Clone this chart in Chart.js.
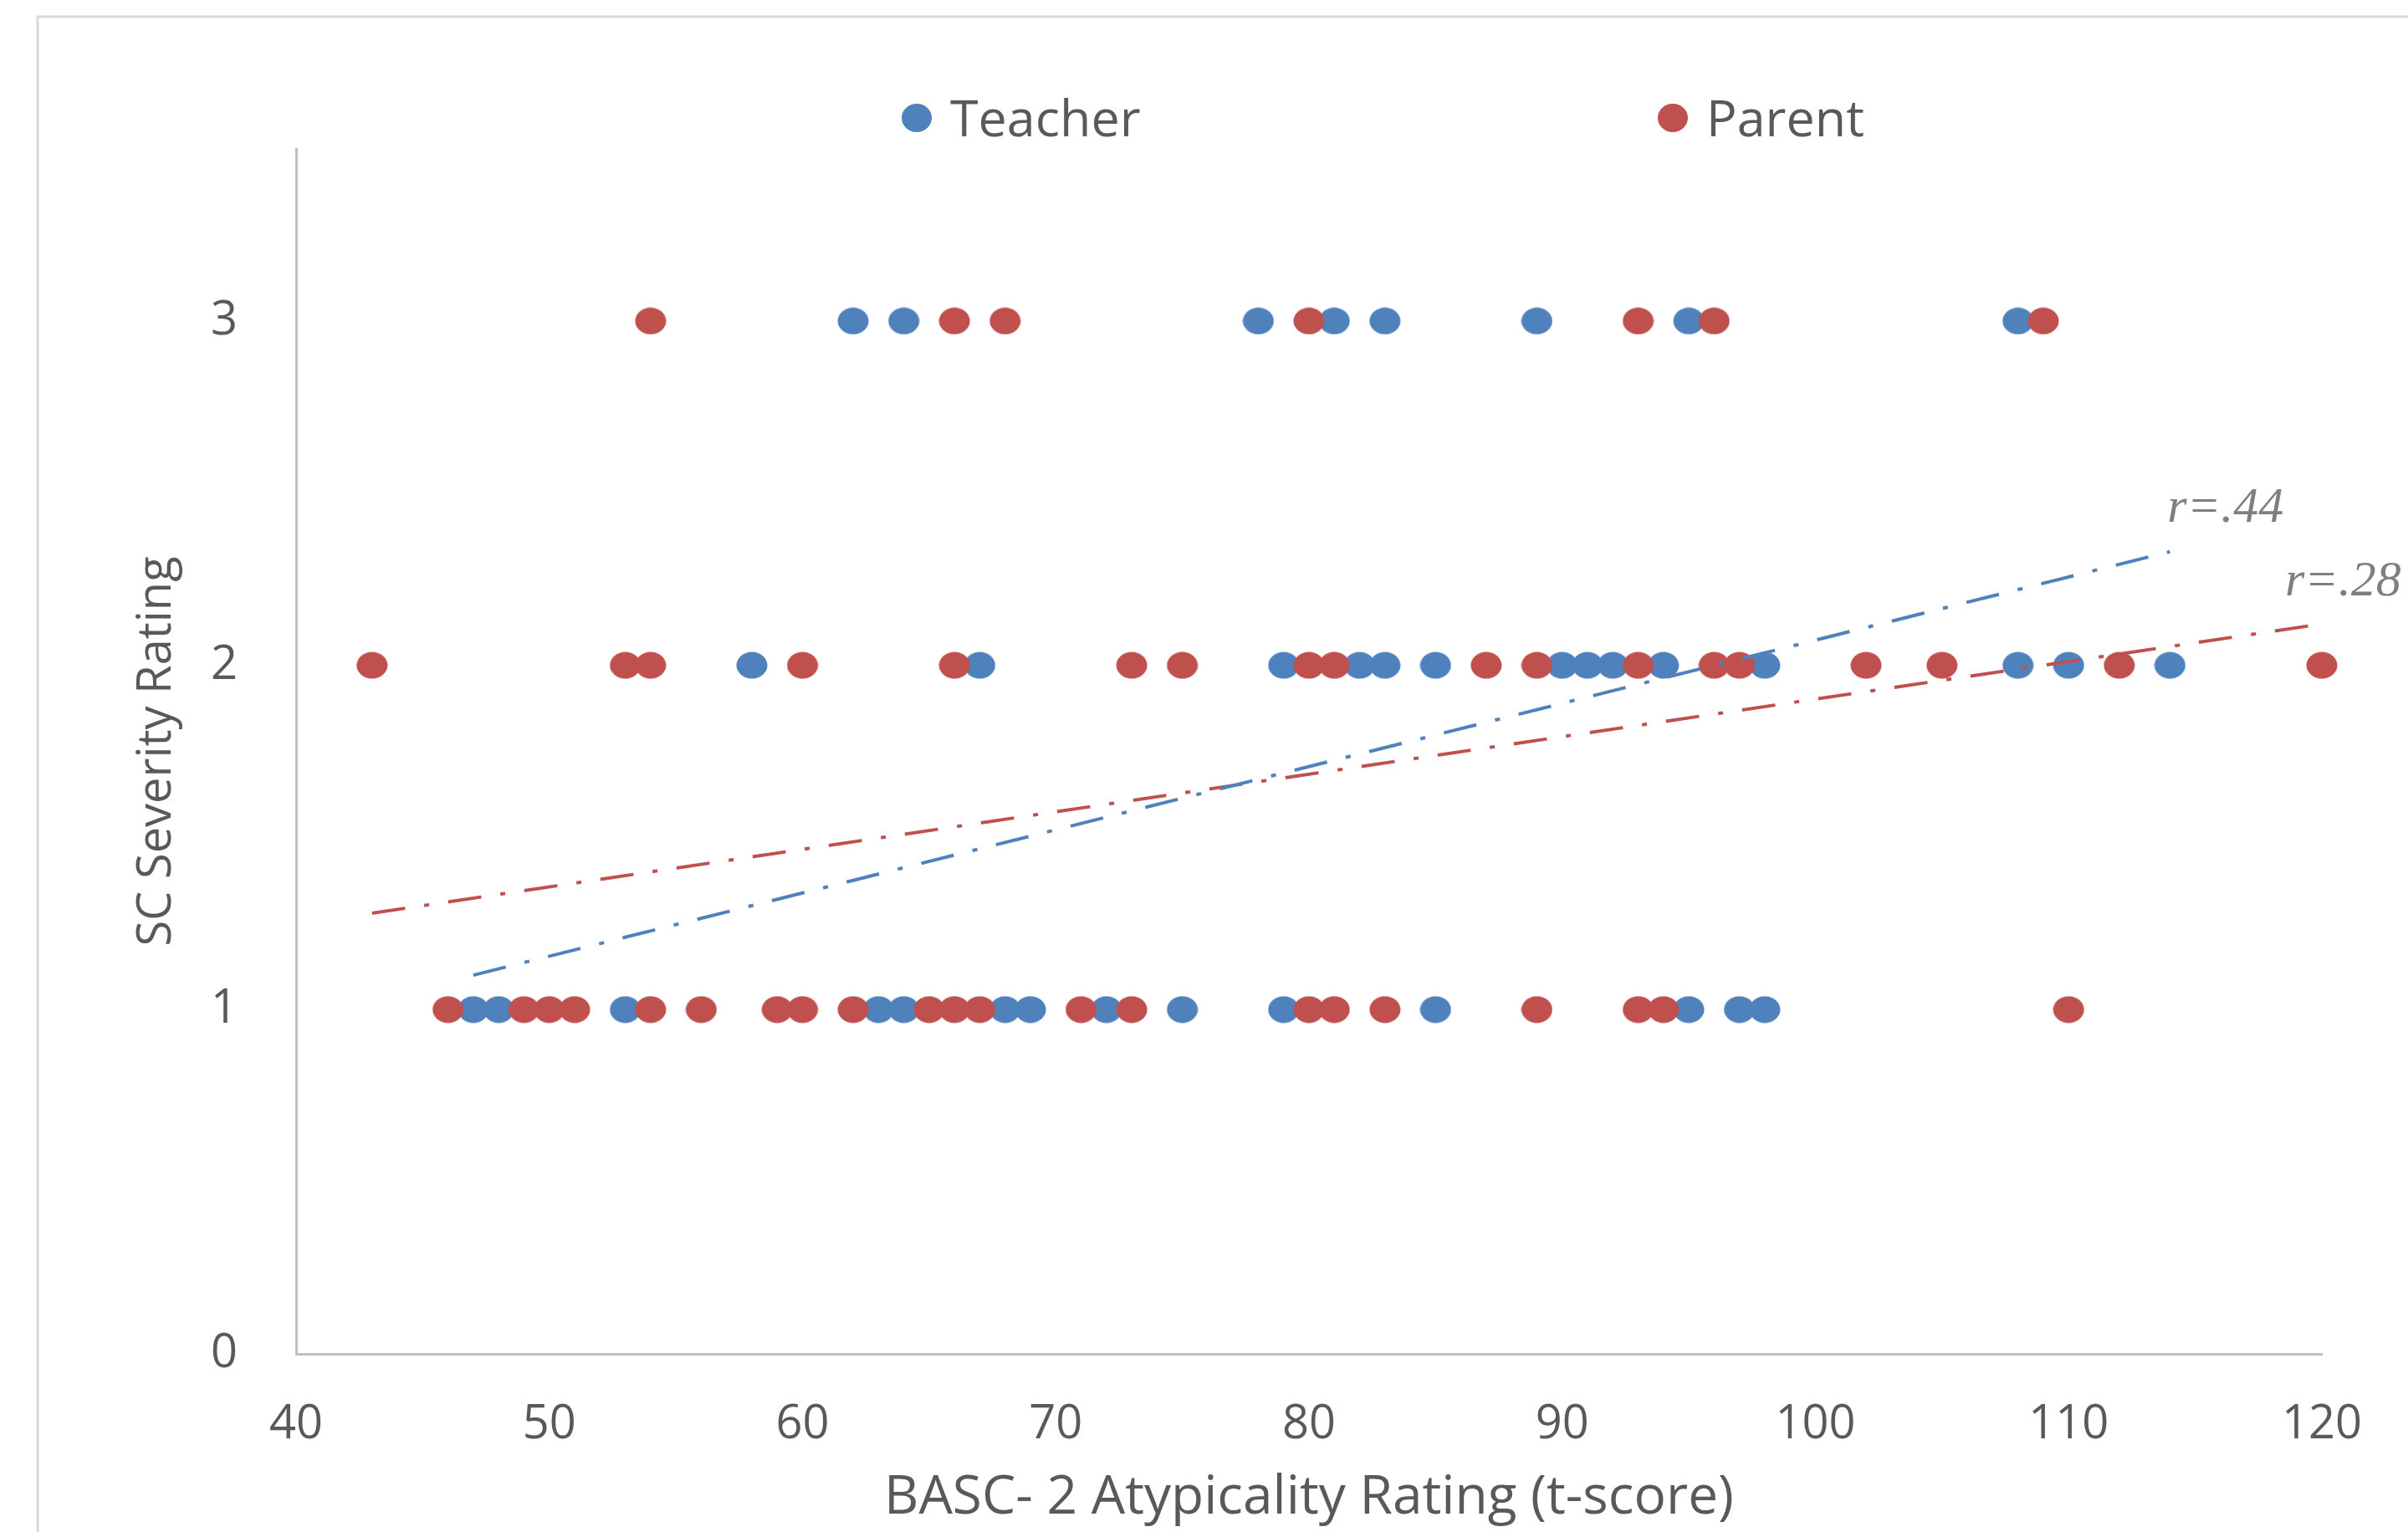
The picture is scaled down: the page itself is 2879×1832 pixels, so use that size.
<!DOCTYPE html>
<html>
<head>
<meta charset="utf-8">
<title>SC Severity vs BASC-2 Atypicality</title>
<script src="https://cdn.jsdelivr.net/npm/chart.js@4.4.0/dist/chart.umd.min.js"></script>
<style>
    html, body { margin: 0; padding: 0; background: #fff; }
</style>
</head>
<body>
<canvas id="scatterChart" width="2879" height="1832"></canvas>
<script>
// series names
const seriesNames = ["Teacher", "Parent"];

// BASC-2 t-scores, grouped by SC severity rating
const teacherSev3 = [62, 64, 78, 81, 83, 89, 95, 108];
const teacherSev2 = [58, 67, 79, 82, 83, 85, 90, 91, 92, 94, 98, 108, 110, 114];
const teacherSev1 = [47, 48, 53, 63, 64, 68, 69, 72, 75, 79, 85, 95, 97, 98];

const parentSev3 = [54, 66, 68, 80, 93, 96, 109];
const parentSev2 = [43, 53, 54, 60, 66, 73, 75, 80, 81, 87, 89, 93, 96, 97, 102, 105, 112, 120];
const parentSev1 = [46, 49, 50, 51, 54, 56, 59, 60, 62, 65, 66, 67, 71, 73, 80, 81, 83, 89, 93, 94, 110];

// trendline end points
const teacherTrendX = [47, 114];
const teacherTrendY = [1.10, 2.33];
const parentTrendX = [43, 120];
const parentTrendY = [1.28, 2.12];

const correlations = ["r=.44", "r=.28"];

// axis ticks
const xTicks = [40, 50, 60, 70, 80, 90, 100, 110, 120];
const yTicks = [0, 1, 2, 3];

const BLUE = "#4F81BD";
const RED = "#C0504D";
const TEXT = "#595959";
const FONT = "'Open Sans', Lato, sans-serif";

function toPoints(rows) {
    const pts = [];
    rows.forEach(([sev, scores]) => {
        scores.forEach(x => pts.push({ x: x, y: sev }));
    });
    return pts;
}

function toLine(xs, ys) {
    return xs.map((x, i) => ({ x: x, y: ys[i] }));
}

// excel style oval marker
function makeDot(color) {
    const c = document.createElement("canvas");
    c.width = 38;
    c.height = 33;
    const g = c.getContext("2d");
    g.fillStyle = color;
    g.beginPath();
    g.ellipse(19, 16.5, 18.5, 16, 0, 0, Math.PI * 2);
    g.fill();
    return c;
}

// outer chart border, legend and r labels
const decorPlugin = {
    id: "decor",
    beforeDraw(chart) {
        const ctx = chart.ctx;
        ctx.save();
        ctx.strokeStyle = "#d9d9d9";
        ctx.lineWidth = 3;
        ctx.strokeRect(45, 20, 3000, 2000);
        ctx.restore();
    },
    afterDraw(chart) {
        const ctx = chart.ctx;
        ctx.save();

        // legend
        const legendPos = [1096, 2000];
        ctx.font = "61px " + FONT;
        ctx.textBaseline = "middle";
        ctx.textAlign = "left";
        seriesNames.forEach((name, i) => {
            const x = legendPos[i];
            ctx.fillStyle = i === 0 ? BLUE : RED;
            ctx.beginPath();
            ctx.ellipse(x, 141, 18, 17, 0, 0, Math.PI * 2);
            ctx.fill();
            ctx.fillStyle = TEXT;
            ctx.fillText(name, x + 40, 146);
        });

        // r values near the trendline ends
        const xs = chart.scales.x;
        const ys = chart.scales.y;
        ctx.font = "italic 60px 'Liberation Serif', serif";
        ctx.fillStyle = "#7f7f7f";
        ctx.textBaseline = "alphabetic";
        const ends = [
            [teacherTrendX[1], teacherTrendY[1], -3, -36],
            [parentTrendX[1], parentTrendY[1], -44, -34]
        ];
        ends.forEach(([x, y, dx, dy], i) => {
            ctx.fillText(correlations[i], xs.getPixelForValue(x) + dx, ys.getPixelForValue(y) + dy);
        });
        ctx.restore();
    }
};

const dash = [40, 23, 6, 23];

new Chart(document.getElementById("scatterChart"), {
    type: "scatter",
    data: {
        datasets: [
            {
                label: seriesNames[0] + " trend",
                type: "line",
                data: toLine(teacherTrendX, teacherTrendY),
                borderColor: BLUE,
                borderWidth: 4,
                borderDash: dash,
                pointRadius: 0,
                fill: false,
                order: 0
            },
            {
                label: seriesNames[1] + " trend",
                type: "line",
                data: toLine(parentTrendX, parentTrendY),
                borderColor: RED,
                borderWidth: 4,
                borderDash: dash,
                pointRadius: 0,
                fill: false,
                order: 0
            },
            {
                label: seriesNames[1],
                data: toPoints([[3, parentSev3], [2, parentSev2], [1, parentSev1]]),
                pointStyle: makeDot(RED),
                backgroundColor: RED,
                clip: false,
                order: 1
            },
            {
                label: seriesNames[0],
                data: toPoints([[3, teacherSev3], [2, teacherSev2], [1, teacherSev1]]),
                pointStyle: makeDot(BLUE),
                backgroundColor: BLUE,
                clip: false,
                order: 2
            }
        ]
    },
    options: {
        responsive: false,
        animation: false,
        layout: {
            padding: { left: 0, right: 103, top: 178, bottom: 0 }
        },
        plugins: {
            legend: { display: false },
            tooltip: { enabled: false }
        },
        scales: {
            x: {
                type: "linear",
                min: 40,
                max: 120,
                afterBuildTicks: s => { s.ticks = xTicks.map(v => ({ value: v })); },
                afterFit: s => { s.height = 213; },
                grid: { display: false, drawTicks: false },
                border: { display: true, color: "#bfbfbf", width: 3 },
                ticks: {
                    padding: 51,
                    color: TEXT,
                    font: { family: FONT, size: 56 }
                },
                title: {
                    display: true,
                    text: "BASC- 2 Atypicality Rating (t-score)",
                    color: TEXT,
                    font: { family: FONT, size: 64 },
                    padding: { top: 0, bottom: 2 }
                }
            },
            y: {
                type: "linear",
                min: 0,
                max: 3.5,
                afterBuildTicks: s => { s.ticks = yTicks.map(v => ({ value: v })); },
                afterFit: s => { s.width = 354; },
                grid: { display: false, drawTicks: false },
                border: { display: true, color: "#bfbfbf", width: 3 },
                ticks: {
                    padding: 70,
                    color: TEXT,
                    font: { family: FONT, size: 56 }
                },
                title: {
                    display: true,
                    text: "SC Severity Rating",
                    color: TEXT,
                    font: { family: FONT, size: 56 },
                    padding: { top: 154, bottom: 0 }
                }
            }
        }
    },
    plugins: [decorPlugin]
});
</script>
</body>
</html>
